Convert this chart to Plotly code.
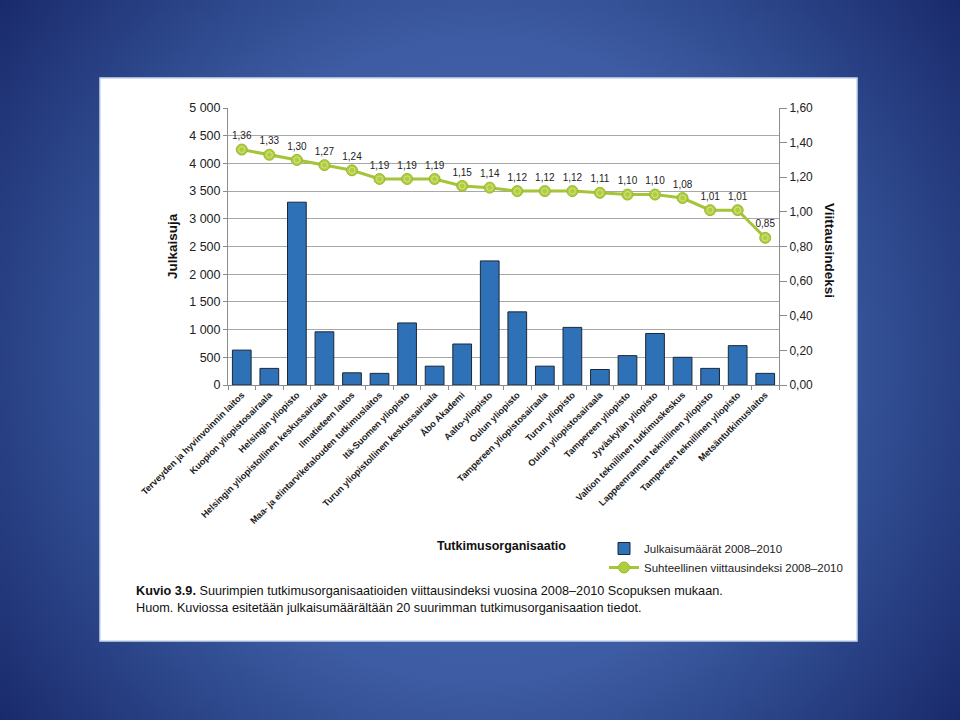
import base64
import struct
import zlib

import numpy as np
import plotly.graph_objects as go

# ---------------- data ----------------
organisations = [
    "Terveyden ja hyvinvoinnin laitos",
    "Kuopion yliopistosairaala",
    "Helsingin yliopisto",
    "Helsingin yliopistollinen keskussairaala",
    "Ilmatieteen laitos",
    "Maa- ja elintarviketalouden tutkimuslaitos",
    "Itä-Suomen yliopisto",
    "Turun yliopistollinen keskussairaala",
    "Åbo Akademi",
    "Aalto-yliopisto",
    "Oulun yliopisto",
    "Tampereen yliopistosairaala",
    "Turun yliopisto",
    "Oulun yliopistosairaala",
    "Tampereen yliopisto",
    "Jyväskylän yliopisto",
    "Valtion teknillinen tutkimuskeskus",
    "Lappeenrannan teknillinen yliopisto",
    "Tampereen teknillinen yliopisto",
    "Metsäntutkimuslaitos",
]
publications = [630, 300, 3300, 960, 220, 210, 1120, 340, 740, 2240,
                1320, 340, 1040, 280, 530, 930, 500, 300, 710, 210]
citation_index = [1.36, 1.33, 1.30, 1.27, 1.24, 1.19, 1.19, 1.19, 1.15, 1.14,
                  1.12, 1.12, 1.12, 1.11, 1.10, 1.10, 1.08, 1.01, 1.01, 0.85]

bar_name = "Julkaisumäärät 2008–2010"
line_name = "Suhteellinen viittausindeksi 2008–2010"
x_title = "Tutkimusorganisaatio"
y_title = "Julkaisuja"
y2_title = "Viittausindeksi"
caption = ("<b>Kuvio 3.9.</b> Suurimpien tutkimusorganisaatioiden viittausindeksi "
           "vuosina 2008–2010 Scopuksen mukaan.<br>Huom. Kuviossa esitetään "
           "julkaisumäärältään 20 suurimman tutkimusorganisaation tiedot.")

# ---------------- layout geometry ----------------
W, H = 960, 720
PL, PR, PT, PB = 228, 779, 108, 385  # plot area in pixels
pw, ph = PR - PL, PB - PT


def px(x):
    return (x - PL) / pw


def py(y):
    return (PB - y) / ph


# ---------------- background gradient image ----------------
def make_png(arr):
    h, w, _ = arr.shape
    raw = b"".join(b"\x00" + arr[r].tobytes() for r in range(h))

    def chunk(tag, data):
        c = struct.pack(">I", len(data)) + tag + data
        return c + struct.pack(">I", zlib.crc32(tag + data) & 0xFFFFFFFF)

    png = b"\x89PNG\r\n\x1a\n"
    png += chunk(b"IHDR", struct.pack(">IIBBBBB", w, h, 8, 2, 0, 0, 0))
    png += chunk(b"IDAT", zlib.compress(raw, 9))
    png += chunk(b"IEND", b"")
    return "data:image/png;base64," + base64.b64encode(png).decode()


gw, gh = 240, 180
yy, xx = np.mgrid[0:gh, 0:gw]
r = np.sqrt(((xx + 0.5) * W / gw - 480) ** 2 + ((yy + 0.5) * H / gh - 360) ** 2)
stops_r = [0, 325, 430, 600]
stops_c = [(78, 108, 178), (62, 92, 163), (47, 74, 142), (26, 43, 108)]
img = np.zeros((gh, gw, 3), dtype=np.uint8)
for ch in range(3):
    img[..., ch] = np.clip(np.interp(r, stops_r, [c[ch] for c in stops_c]), 0, 255)
bg_uri = make_png(img)

# ---------------- figure ----------------
FONT = "Liberation Sans, Arial, sans-serif"
fig = go.Figure()

fig.add_trace(go.Bar(
    x=organisations, y=publications, name=bar_name,
    marker=dict(color="#2e71b6", line=dict(color="#1b2838", width=1)),
    width=0.68, yaxis="y",
))
fig.add_trace(go.Scatter(
    x=organisations, y=citation_index, name=line_name, yaxis="y2",
    mode="lines+markers+text",
    line=dict(color="#a5c43a", width=3),
    marker=dict(symbol="circle", size=11, color="#b0cd3e",
                line=dict(color="#9ab832", width=1)),
    texttemplate="%{y:.2f}", textposition="top center",
    textfont=dict(family=FONT, size=10, color="#222222"),
))
fig.add_trace(go.Scatter(
    x=organisations, y=citation_index, yaxis="y2", mode="markers",
    marker=dict(symbol="circle-open", size=6, color="#d2e58c",
                line=dict(width=1)),
    showlegend=False, hoverinfo="skip",
))

fig.update_layout(
    width=W, height=H,
    margin=dict(l=PL, r=W - PR, t=PT, b=H - PB, pad=0),
    paper_bgcolor="#22367a",
    plot_bgcolor="rgba(0,0,0,0)",
    separators=", ",
    font=dict(family=FONT, size=12, color="#222222"),
    bargap=0.3,
    xaxis=dict(
        type="category", range=[-0.5, len(organisations) - 0.5],
        tickson="boundaries", ticks="outside", ticklen=4,
        tickcolor="#8c8c8c", showline=True, linecolor="#8c8c8c", linewidth=1,
        showgrid=False, tickangle=-45,
        tickfont=dict(family=FONT, size=9.2, color="#1a1a1a", weight="bold"),
    ),
    yaxis=dict(
        range=[0, 5000], dtick=500, tickformat=",d", showgrid=True,
        gridcolor="#a8a8a8", gridwidth=1, showline=True, linecolor="#8c8c8c",
        ticks="outside", ticklen=4, tickcolor="#8c8c8c", zeroline=False,
        tickfont=dict(family=FONT, size=12.5, color="#222222"),
    ),
    yaxis2=dict(
        range=[0, 1.6], dtick=0.2, tickformat=".2f", overlaying="y",
        side="right", showgrid=False, showline=True, linecolor="#8c8c8c",
        ticks="outside", ticklen=7, tickcolor="#8c8c8c", zeroline=False,
        tickfont=dict(family=FONT, size=12, color="#222222"),
    ),
    showlegend=True,
    legend=dict(
        x=px(604), y=py(534), xanchor="left", yanchor="top",
        bgcolor="rgba(0,0,0,0)", font=dict(family=FONT, size=11.5, color="#222222"),
        tracegroupgap=0, itemwidth=30,
    ),
    images=[dict(
        source=bg_uri, xref="paper", yref="paper", x=px(0), y=py(0),
        sizex=W / pw, sizey=H / ph, xanchor="left", yanchor="top",
        sizing="stretch", layer="below",
    )],
    shapes=[dict(
        type="rect", xref="paper", yref="paper", x0=px(100), x1=px(857),
        y0=py(641), y1=py(78), fillcolor="white",
        line=dict(color="#c9d7ec", width=1.5), layer="below",
    )],
    annotations=[
        dict(text=f"<b>{y_title}</b>", xref="paper", yref="paper",
             x=px(172), y=py(246), xanchor="center", yanchor="middle",
             textangle=-90, showarrow=False,
             font=dict(family=FONT, size=13.5, color="#111111")),
        dict(text=f"<b>{y2_title}</b>", xref="paper", yref="paper",
             x=px(830), y=py(250), xanchor="center", yanchor="middle",
             textangle=90, showarrow=False,
             font=dict(family=FONT, size=13.5, color="#111111")),
        dict(text=f"<b>{x_title}</b>", xref="paper", yref="paper",
             x=px(501), y=py(546), xanchor="center", yanchor="middle",
             showarrow=False,
             font=dict(family=FONT, size=12.5, color="#111111")),
        dict(text=caption, xref="paper", yref="paper", x=px(134), y=py(582),
             xanchor="left", yanchor="top", align="left", showarrow=False,
             font=dict(family=FONT, size=12.7, color="#111111")),
    ],
)

fig.write_html(
    "out.html",
    config={"displayModeBar": False},
    post_script="document.body.style.margin='0';document.body.style.overflow='hidden';",
)
